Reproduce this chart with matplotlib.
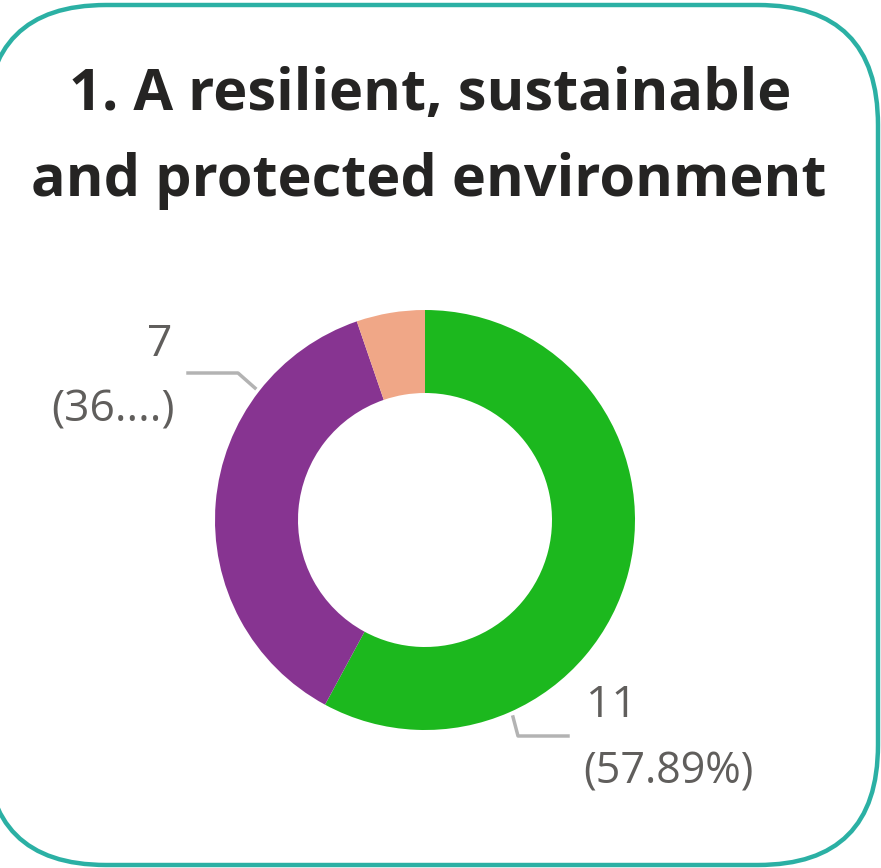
import matplotlib.pyplot as plt
from matplotlib.patches import FancyBboxPatch

# chart data
categories = ["Green", "Purple", "Orange"]
counts = [11, 7, 1]
colors = ["#1CB81E", "#873491", "#F0A787"]
title_lines = ["1. A resilient, sustainable", "and protected environment"]

W, H = 881, 868


def main():
    fig = plt.figure(figsize=(W / 100, H / 100), dpi=100)
    ax = fig.add_axes([0, 0, 1, 1])

    cx, cy, r = 425, H - 520, 210
    ax.pie(counts, colors=colors, startangle=90, counterclock=False,
           center=(cx, cy), radius=r, frame=True,
           wedgeprops=dict(width=r - 127, linewidth=0))
    ax.set_xlim(0, W)
    ax.set_ylim(0, H)
    ax.set_aspect("equal")
    ax.axis("off")

    # rounded card border
    card = FancyBboxPatch((-14, H - 865), 892, 860,
                          boxstyle="round,pad=0,rounding_size=120",
                          fc="white", ec="#2BB0A4", lw=3.2, zorder=0,
                          clip_on=False)
    ax.add_patch(card)

    ax.text(430, H - 95, title_lines[0], ha="center", va="center",
            fontsize=41.5, fontweight="bold", family="Open Sans",
            color="#252423")
    ax.text(429, H - 181, title_lines[1], ha="center", va="center",
            fontsize=41.5, fontweight="bold", family="Open Sans",
            color="#252423")

    total = sum(counts)
    pct = [c / total * 100 for c in counts]
    lc = "#B3B3B3"
    tc = "#605E5C"

    # purple label
    ax.plot([188, 238, 255], [H - 373, H - 373, H - 388], color=lc, lw=2.5)
    ax.text(172, H - 345, str(counts[1]), ha="right", va="center",
            fontsize=32, family="Open Sans", color=tc)
    ax.text(175, H - 410, "(%d....)" % int(pct[1]), ha="right", va="center",
            fontsize=32, family="Open Sans", color=tc)

    # green label
    ax.plot([513, 518, 568], [H - 717, H - 736, H - 736], color=lc, lw=2.5)
    ax.text(586, H - 706, str(counts[0]), ha="left", va="center",
            fontsize=32, family="Open Sans", color=tc)
    ax.text(583, H - 772, "(%.2f%%)" % pct[0], ha="left", va="center",
            fontsize=31, family="Open Sans", color=tc)

    fig.savefig("out.png", dpi=100)


if __name__ == '__main__':
    main()
